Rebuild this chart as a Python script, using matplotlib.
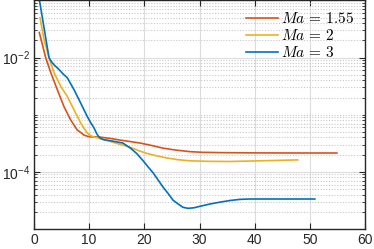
import matplotlib
matplotlib.use("Agg")
import matplotlib.pyplot as plt
from matplotlib.ticker import FixedLocator, NullFormatter

# Ma = 1.55
x1 = [0.96, 2.12, 3.03, 4.22, 5.43, 6.65, 7.84, 8.46, 9.06, 9.7, 10.27, 11.0, 12.08, 13.8, 15.6, 17.4, 19.2, 21.3, 23.4, 25.8, 28.3, 30.5, 34.0, 40.0, 48.0, 54.9]
y1 = [2.75e-2, 1.0e-2, 5.5e-3, 2.75e-3, 1.39e-3, 8.1e-4, 5.4e-4, 4.9e-4, 4.4e-4, 4.2e-4, 4.1e-4, 4.1e-4, 4.05e-4, 3.85e-4, 3.6e-4, 3.4e-4, 3.2e-4, 2.9e-4, 2.6e-4, 2.4e-4, 2.26e-4, 2.2e-4, 2.17e-4, 2.15e-4, 2.14e-4, 2.14e-4]
# Ma = 2
x2 = [1.09, 1.81, 2.72, 3.62, 4.84, 6.03, 7.25, 8.46, 9.06, 9.66, 10.27, 10.87, 11.5, 12.08, 13.2, 14.3, 15.8, 17.4, 19.0, 20.5, 22.3, 24.1, 26.2, 28.3, 31.5, 35.5, 42.0, 47.8]
y2 = [5.0e-2, 2.1e-2, 1.0e-2, 5.5e-3, 3.15e-3, 2.1e-3, 1.22e-3, 7.2e-4, 5.8e-4, 4.8e-4, 4.3e-4, 4.07e-4, 3.95e-4, 3.8e-4, 3.55e-4, 3.3e-4, 3.0e-4, 2.7e-4, 2.35e-4, 2.1e-4, 1.9e-4, 1.75e-4, 1.63e-4, 1.56e-4, 1.53e-4, 1.52e-4, 1.57e-4, 1.62e-4]
# Ma = 3
x3 = [0.96, 2.72, 3.08, 3.62, 4.53, 5.25, 6.03, 7.25, 8.46, 9.66, 10.3, 10.87, 11.4, 11.78, 12.2, 12.7, 14.3, 16.1, 17.5, 18.6, 19.7, 20.6, 21.6, 22.5, 23.4, 24.3, 25.2, 26.1, 27.0, 27.9, 29.0, 30.1, 32.0, 33.7, 35.5, 37.3, 39.0, 41.5, 50.9]
y3 = [1.05e-1, 1.0e-2, 8.7e-3, 7.5e-3, 6.2e-3, 5.2e-3, 4.45e-3, 2.75e-3, 1.6e-3, 9.3e-4, 7.2e-4, 5.9e-4, 4.6e-4, 4.1e-4, 3.8e-4, 3.65e-4, 3.45e-4, 3.2e-4, 2.6e-4, 2.1e-4, 1.6e-4, 1.25e-4, 9.6e-5, 7.2e-5, 5.4e-5, 4.2e-5, 3.2e-5, 2.75e-5, 2.4e-5, 2.3e-5, 2.35e-5, 2.5e-5, 2.75e-5, 2.95e-5, 3.15e-5, 3.3e-5, 3.35e-5, 3.35e-5, 3.35e-5]

labels = [r'$Ma\,=\,1.55$', r'$Ma\,=\,2$', r'$Ma\,=\,3$']
colors = ['#D95319', '#EDB120', '#0072BD']
xticks = [0, 10, 20, 30, 40, 50, 60]
yticks = [1e-4, 1e-2]
yticklabels = [r'$10^{-4}$', r'$10^{-2}$']

plt.rcParams['font.family'] = ['Liberation Sans', 'DejaVu Sans']
plt.rcParams['mathtext.fontset'] = 'custom'
plt.rcParams['mathtext.rm'] = 'Liberation Sans'
plt.rcParams['mathtext.it'] = 'Liberation Sans:italic'

fig = plt.figure(figsize=(3.74, 2.49), dpi=100)
ax = fig.add_axes([34/374, 1 - 229/249, (365-34)/374, (229-0.5)/249])

for xs, ys, lab, c in zip([x1, x2, x3], [y1, y2, y3], labels, colors):
    ax.plot(xs, ys, color=c, lw=1.2, label=lab)

ax.set_yscale('log')
ax.set_xlim(0, 60)
ax.set_ylim(1e-5, 1e-1)
ax.set_xticks(xticks)
ax.set_yticks(yticks)
ax.set_yticklabels(yticklabels)
minors = [m * 10.0**k for k in range(-5, -1) for m in range(1, 10)
          if not any(abs(m * 10.0**k - t) < 1e-12 for t in yticks)] + [1e-1]
ax.yaxis.set_minor_locator(FixedLocator(minors))
ax.yaxis.set_minor_formatter(NullFormatter())
ax.xaxis.set_minor_locator(FixedLocator([]))

ax.grid(True, which='major', color='#dcdcdc', lw=0.8, ls='-')
ax.grid(True, which='minor', axis='y', color='#c8c8c8', lw=0.8, ls=(0, (1, 1.5)))
ax.set_axisbelow(True)

for s in ax.spines.values():
    s.set_color('#262626')
    s.set_linewidth(1.0)
ax.tick_params(which='both', direction='in', top=True, right=True, colors='#262626',
               labelsize=10, labelcolor='#262626')
ax.tick_params(which='major', length=4, width=0.8, pad=3)
ax.tick_params(which='minor', length=2, width=0.6)

leg = ax.legend(loc='upper right', frameon=False, prop=dict(size=11, math_fontfamily='cm'),
                handlelength=2.1, handletextpad=0.2, labelspacing=0.12,
                borderaxespad=0.4, borderpad=0.3)

fig.savefig('out.png', dpi=100)
